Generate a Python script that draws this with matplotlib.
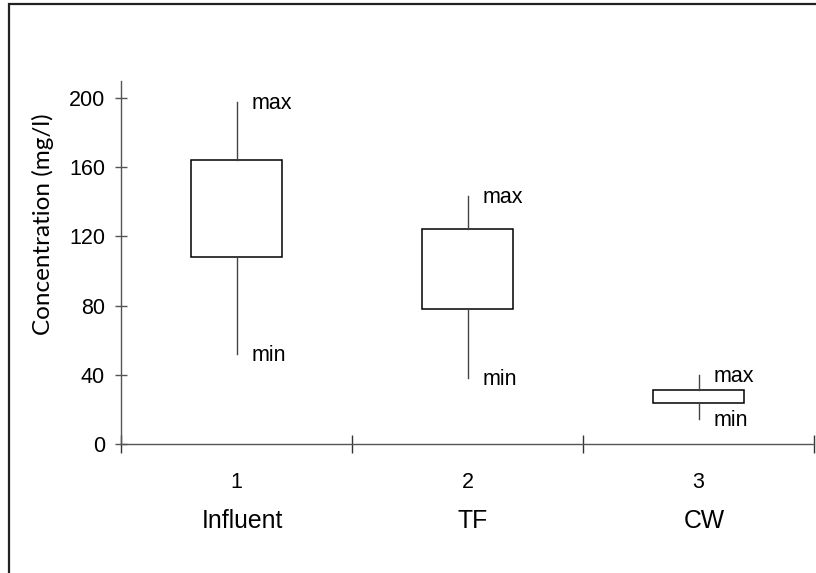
import matplotlib
matplotlib.use("Agg")
import matplotlib.pyplot as plt
from matplotlib.patches import Rectangle

# box statistics (mg/l)
positions = [1, 2, 3]
tick_labels = ["1", "2", "3"]
names = ["Influent", "TF", "CW"]
q1 = [108, 78, 23.5]
q3 = [164, 124, 31]
lows = [52, 38, 14.5]
highs = [197.5, 143.5, 40]
yticks = [0, 40, 80, 120, 160, 200]

plt.rcParams["font.family"] = ["Liberation Sans", "DejaVu Sans"]

fig = plt.figure(figsize=(8.16, 5.73), dpi=100)
ax = fig.add_axes([121 / 816, 1 - 444 / 573, 693 / 816, 363.3 / 573])

stats = []
for lo, a, b, hi in zip(lows, q1, q3, highs):
    stats.append({"med": a, "q1": a, "q3": b, "whislo": lo, "whishi": hi})

ax.bxp(stats, positions=positions, widths=0.39, showcaps=False,
       showfliers=False, patch_artist=True,
       boxprops=dict(facecolor="white", edgecolor="black", linewidth=1.1),
       whiskerprops=dict(color="#444444", linewidth=1.0),
       medianprops=dict(linewidth=0))

# min / max annotations
for x, lo, hi in zip(positions, lows, highs):
    ax.annotate("max", xy=(x, hi), xytext=(11, -5), textcoords="offset points",
                fontsize=15.5, va="baseline", ha="left")
    ax.annotate("min", xy=(x, lo), xytext=(11, -5), textcoords="offset points",
                fontsize=15.5, va="baseline", ha="left")

ax.set_xlim(0.5, 3.5)
ax.set_ylim(0, 210)
ax.set_yticks(yticks)
ax.set_xticks(positions)
ax.set_xticklabels(tick_labels)
ax.set_xticks([0.5, 1.5, 2.5, 3.5], minor=True)

for s in ["top", "right"]:
    ax.spines[s].set_visible(False)
for s in ["left", "bottom"]:
    ax.spines[s].set_color("#555555")
    ax.spines[s].set_linewidth(1.0)

ax.tick_params(axis="y", direction="inout", length=9, width=1.0,
               color="#555555", labelsize=15.5, pad=7)
ax.tick_params(axis="x", which="major", length=0, labelsize=15.5, pad=20)
ax.tick_params(axis="x", which="minor", direction="inout", length=13,
               width=1.0, color="#333333")

for x, name in zip(positions, names):
    ax.annotate(name, xy=(x, 0), xycoords=("data", "axes fraction"),
                xytext=(4, -47), textcoords="offset points",
                fontsize=17.8, ha="center", va="top")

ax.set_ylabel("Concentration (mg/l)", fontsize=17.5, family=["Lato", "DejaVu Sans"])
ax.yaxis.set_label_coords(-0.097, 0.606)

# outer frame, cut off at right and bottom like the original
fig.add_artist(Rectangle((8.5 / 816, -0.1), 1.0, 1.1 - 4.5 / 573,
                         transform=fig.transFigure, fill=False,
                         edgecolor="#222222", linewidth=1.6, clip_on=False))

fig.savefig("out.png", dpi=100)
